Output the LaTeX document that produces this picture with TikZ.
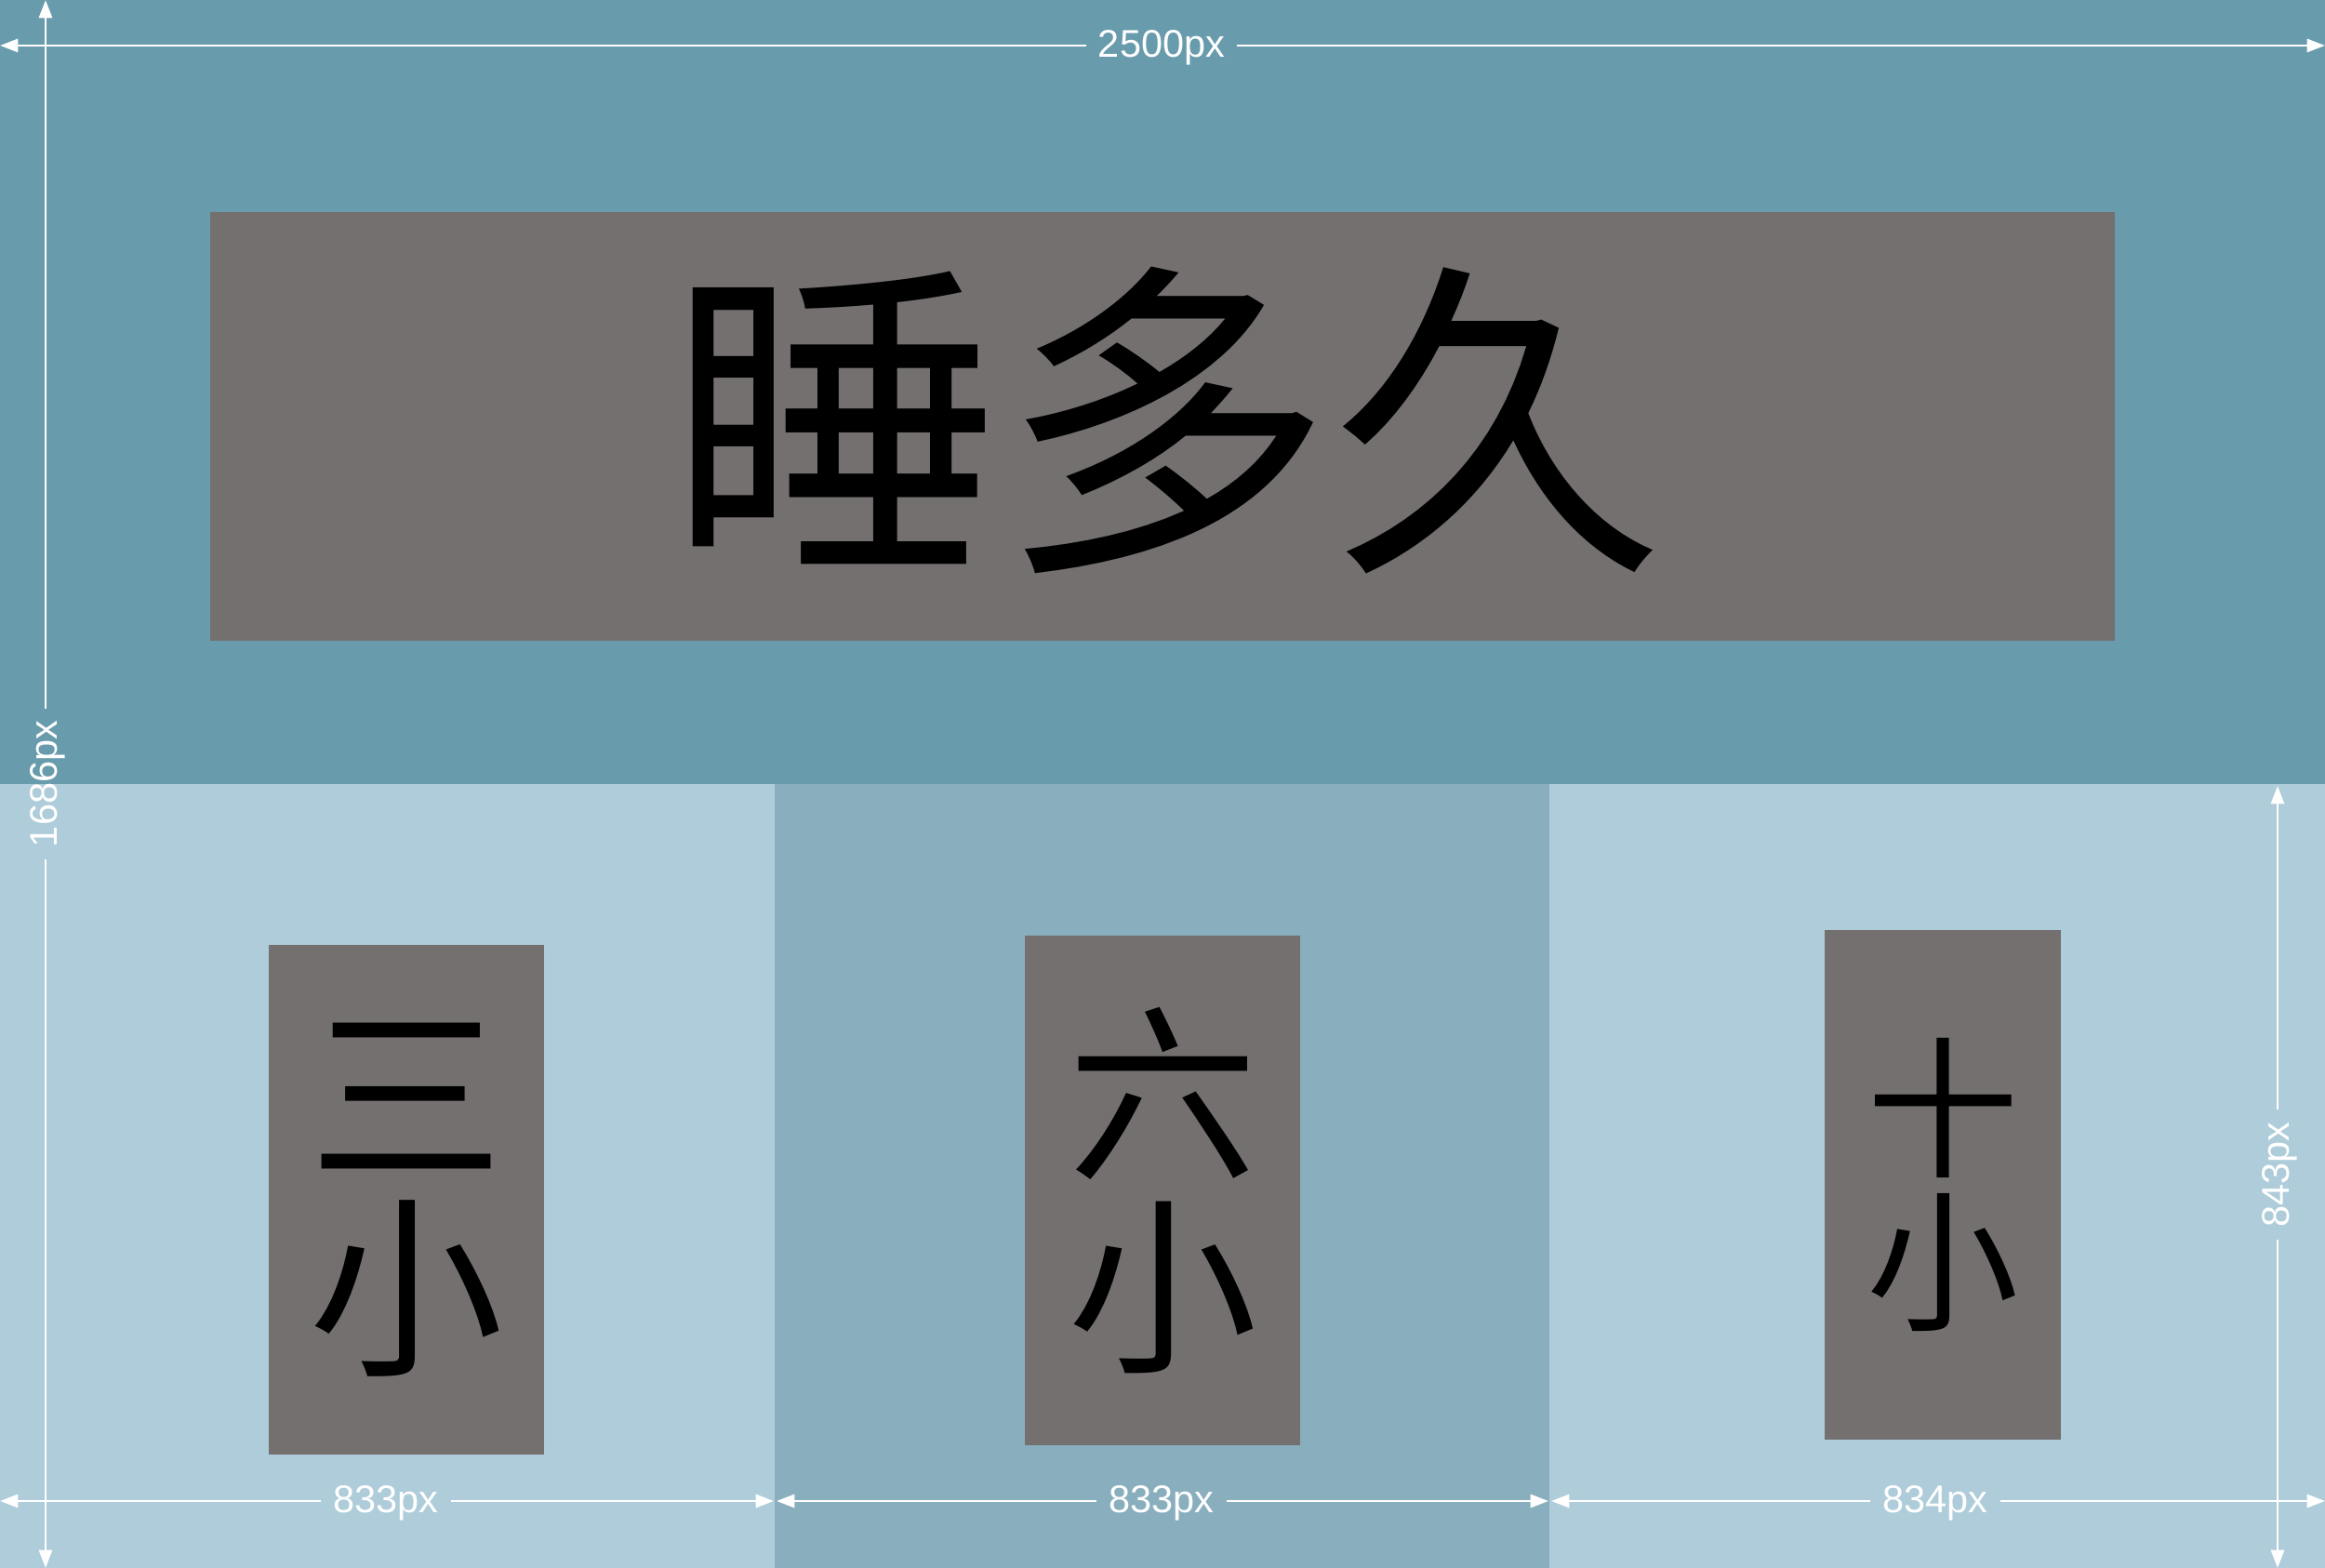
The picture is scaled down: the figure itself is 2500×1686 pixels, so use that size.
\documentclass[tikz,border=0pt]{standalone}
\usepackage{fontspec}
\setmainfont{Liberation Sans}
\newfontfamily\cjk{Noto Sans CJK SC}
\usetikzlibrary{arrows.meta}
\definecolor{topbg}{RGB}{104,155,172}
\definecolor{lightbg}{RGB}{174,204,217}
\definecolor{midbg}{RGB}{137,174,190}
\definecolor{boxgray}{RGB}{116,112,112}
\begin{document}
\begin{tikzpicture}[x=0.01cm,y=-0.01cm,
  box/.style={fill=boxgray,draw=none,inner sep=0pt,text=black,align=center},
  dimline/.style={draw=white,line width=0.8pt},
  tipend/.style={dimline,-{Triangle[length=5.5pt,width=4pt]}},
  dimlab/.style={text=white,font=\fontsize{11.8}{13}\selectfont,text height=0.72em,text depth=0pt,inner xsep=3.5pt,inner ysep=1pt}]
\useasboundingbox (0,0) rectangle (2500,1686);
% backgrounds
\fill[topbg] (0,0) rectangle (2500,843);
\fill[lightbg] (0,843) rectangle (2500,1686);
\fill[midbg] (833,843) rectangle (1666,1686);
% boxes
\node[box,minimum width=20.47cm,minimum height=4.61cm] (title) at (1250,458.5) {};
\node[font=\cjk\fontsize{101.5}{101.5}\selectfont,inner sep=0pt] (titletext) at (1254,452) {睡多久};
\node[box,minimum width=2.966cm,minimum height=5.485cm,font=\cjk\fontsize{59.5}{59}\selectfont] (b1) at (437,1290) {三\\小};
\node[box,minimum width=2.966cm,minimum height=5.47cm,font=\cjk\fontsize{58}{59}\selectfont] (b2) at (1250,1280) {六\\小};
\node[box,minimum width=2.535cm,minimum height=5.486cm,font=\cjk\fontsize{46.5}{47}\selectfont] (b3) at (2089,1274) {十\\小};
% top dimension
\coordinate (tL) at (0,49);
\coordinate (tR) at (2500,49);
\node[dimlab] (l2500) at (1249,49) {2500px};
\draw[tipend] (l2500.west) -- (tL);
\draw[tipend] (l2500.east) -- (tR);
% left vertical dimension
\coordinate (vT) at (49,0);
\coordinate (vB) at (49,1686);
\node[dimlab,rotate=90] (l1686) at (49,843) {1686px};
\draw[tipend] (l1686.east) -- (vT);
\draw[tipend] (l1686.west) -- (vB);
% right vertical dimension
\coordinate (rT) at (2449,845);
\coordinate (rB) at (2449,1686);
\node[dimlab,rotate=90] (l843) at (2449,1263) {843px};
\draw[tipend] (l843.east) -- (rT);
\draw[tipend] (l843.west) -- (rB);
% bottom dimensions
\coordinate (c0) at (0,1614);
\coordinate (c1a) at (832,1614);
\coordinate (c1b) at (835,1614);
\coordinate (c2a) at (1665,1614);
\coordinate (c2b) at (1668,1614);
\coordinate (c3) at (2500,1614);
\node[dimlab] (l833a) at (415,1614) {833px};
\node[dimlab] (l833b) at (1249,1614) {833px};
\node[dimlab] (l834) at (2081,1614) {834px};
\draw[tipend] (l833a.west) -- (c0);
\draw[tipend] (l833a.east) -- (c1a);
\draw[tipend] (l833b.west) -- (c1b);
\draw[tipend] (l833b.east) -- (c2a);
\draw[tipend] (l834.west) -- (c2b);
\draw[tipend] (l834.east) -- (c3);
\end{tikzpicture}
\end{document}
